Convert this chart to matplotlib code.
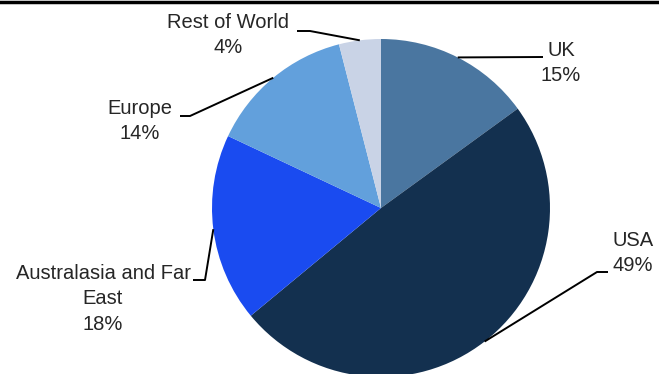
import numpy as np
import matplotlib.pyplot as plt

regions = ['UK', 'USA', 'Australasia and Far\nEast', 'Europe', 'Rest of World']
shares = [15, 49, 18, 14, 4]
colors = ['#4A76A0', '#13304F', '#1A4BF0', '#62A0DC', '#C9D3E6']

# label block centre, elbow and end of leader (pixel coords, y from top)
label_pos = [(561, 63), (633, 253), (103, 299), (140, 121), (228, 35)]
elbows = [None, (597, 272), (205, 280), (190, 116), (310, 31)]
ends = [(543, 57), (608, 272), (193, 280), (180, 116), (297, 31)]

W, H = 659, 374
fig = plt.figure(figsize=(W / 100, H / 100), dpi=100)
ax = fig.add_axes([0, 0, 1, 1])

cx, cy, r = 381, H - 208, 169
wedges, _ = ax.pie(shares, colors=colors, startangle=90, counterclock=False,
                   center=(cx, cy), radius=r, frame=True,
                   wedgeprops=dict(linewidth=0))
ax.set_xlim(0, W)
ax.set_ylim(0, H)
ax.set_aspect('equal')
ax.axis('off')

font = dict(family=['Liberation Sans', 'DejaVu Sans'], size=14.5, color='#262626')
for w, name, v, (tx, ty), el, (ex, ey) in zip(wedges, regions, shares, label_pos, elbows, ends):
    mid = np.deg2rad((w.theta1 + w.theta2) / 2)
    px, py = cx + r * np.cos(mid), cy + r * np.sin(mid)
    xs, ys = [px], [py]
    if el is not None:
        xs.append(el[0])
        ys.append(H - el[1])
    xs.append(ex)
    ys.append(H - ey)
    ax.plot(xs, ys, color='black', lw=1.4, solid_capstyle='butt', zorder=3)
    ax.text(tx, H - ty, f'{name}\n{v}%', ha='center', va='center',
            linespacing=1.45, **font)

# rule along the top edge
ax.plot([0, W], [H - 1.5, H - 1.5], color='black', lw=2.5, clip_on=False)

fig.savefig('out.png', dpi=100)
